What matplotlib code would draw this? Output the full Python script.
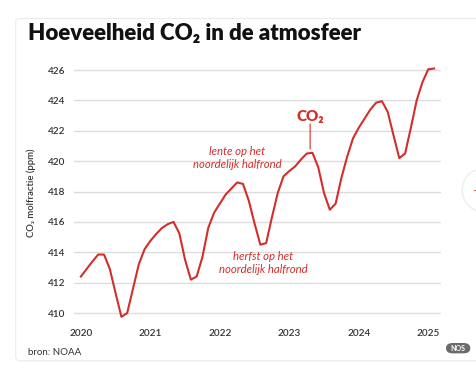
import numpy as np
import matplotlib
matplotlib.use('Agg')
import matplotlib.pyplot as plt
from matplotlib.patches import FancyBboxPatch, Ellipse

# maandgemiddelden CO2 (ppm), jan 2020 - feb 2025
co2_2020 = [412.4, 412.9, 413.4, 413.85, 413.85, 412.9, 411.3, 409.75, 410.0, 411.6, 413.2, 414.2]
co2_2021 = [414.75, 415.2, 415.6, 415.85, 416.0, 415.25, 413.5, 412.2, 412.4, 413.7, 415.6, 416.6]
co2_2022 = [417.2, 417.8, 418.2, 418.6, 418.5, 417.4, 415.9, 414.5, 414.6, 416.3, 417.9, 419.0]
co2_2023 = [419.35, 419.65, 420.1, 420.5, 420.55, 419.6, 417.9, 416.8, 417.2, 418.9, 420.3, 421.5]
co2_2024 = [422.2, 422.8, 423.4, 423.85, 423.95, 423.25, 421.7, 420.2, 420.5, 422.2, 424.0, 425.2]
co2_2025 = [426.05, 426.1]

co2 = np.array(co2_2020 + co2_2021 + co2_2022 + co2_2023 + co2_2024 + co2_2025)
t = 2020 + np.arange(len(co2)) / 12.0

years = [2020, 2021, 2022, 2023, 2024, 2025]
yticks = [410, 412, 414, 416, 418, 420, 422, 424, 426]

red = '#d22f2b'
txt = '#333333'
plt.rcParams['font.family'] = ['Lato', 'DejaVu Sans']

fig = plt.figure(figsize=(4.77, 3.70), dpi=100)
fig.patch.set_facecolor('white')

# kaart-achtergrond
card = FancyBboxPatch((0.033, 0.025), 0.99, 0.925, boxstyle='round,pad=0,rounding_size=0.01',
                      transform=fig.transFigure, facecolor='white', edgecolor='#ebebeb', lw=0.8,
                      zorder=-5)
fig.patches.append(card)

ax = fig.add_axes([0.155, 0.1335, 0.769, 0.6895])
ax.patch.set_alpha(0)
ax.plot(t, co2, color=red, lw=1.5, zorder=3)

ax.set_xlim(2019.9, 2025.18)
ax.set_ylim(409.5, 426.3)
ax.set_xticks(years)
ax.set_xticklabels([str(y) for y in years])
ax.set_yticks(yticks)
ax.grid(axis='y', color='#dddddd', lw=1)
ax.grid(axis='x', visible=False)
for s in ax.spines.values():
    s.set_visible(False)
ax.tick_params(length=0, labelsize=7.2, labelcolor=txt, pad=6)
for lab in ax.get_xticklabels() + ax.get_yticklabels():
    lab.set_fontweight('semibold')
ax.set_ylabel('CO₂ molfractie (ppm)', fontsize=6.8, color=txt, fontweight='semibold', labelpad=9)
ax.set_axisbelow(True)

# annotaties
ax.annotate('', xy=(2023.3, 420.8), xytext=(2023.3, 422.45),
            arrowprops=dict(arrowstyle='-', color=red, lw=0.8, shrinkA=0, shrinkB=0))
ax.text(2023.3, 422.95, 'CO₂', ha='center', va='center',
        fontsize=11, fontweight='heavy', color=red)
ax.text(2022.25, 420.2, 'lente op het\nnoordelijk halfrond', ha='center', va='center',
        fontsize=8.2, style='italic', color=red, linespacing=1.2)
ax.text(2022.62, 413.3, 'herfst op het\nnoordelijk halfrond', ha='center', va='center',
        fontsize=8.2, style='italic', color=red, linespacing=1.2)

fig.text(0.058, 0.91, 'Hoeveelheid CO₂ in de atmosfeer', fontsize=16, fontweight='heavy',
         color='#111111', va='center', ha='left')
fig.text(0.058, 0.048, 'bron: NOAA', fontsize=7, color=txt, va='center', ha='left')

badge = FancyBboxPatch((0.935, 0.045), 0.051, 0.028, boxstyle='round,pad=0,rounding_size=0.014',
                       transform=fig.transFigure, facecolor='#6b6b6b', edgecolor='none')
fig.patches.append(badge)
fig.text(0.9605, 0.059, 'NOS', fontsize=5, fontweight='bold', color='white', ha='center', va='center')

circ = Ellipse((1.015, 0.486), 0.092, 0.119, transform=fig.transFigure, facecolor='white',
               edgecolor='#eeeeee', lw=1.0)
fig.patches.append(circ)
fig.text(0.996, 0.486, '–', fontsize=7, color=red, ha='center', va='center')

fig.savefig('out.png', dpi=100)
